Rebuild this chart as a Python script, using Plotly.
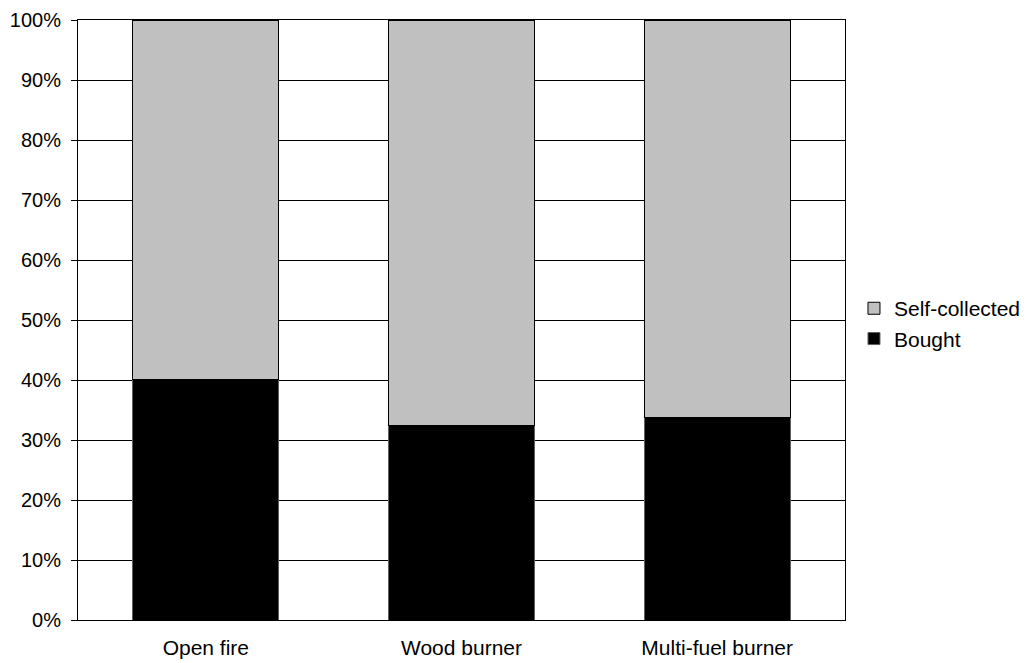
import plotly.graph_objects as go

categories = ["Open fire", "Wood burner", "Multi-fuel burner"]
bought = [40.1, 32.4, 33.8]
self_collected = [100 - b for b in bought]
y_ticks = list(range(0, 101, 10))
y_tick_labels = [f"{v}%" for v in y_ticks]

fig = go.Figure()
fig.add_trace(go.Bar(
    x=categories, y=bought, name="Bought",
    marker=dict(color="#000000", line=dict(color="#606060", width=1)),
))
fig.add_trace(go.Bar(
    x=categories, y=self_collected, name="Self-collected",
    marker=dict(color="#c0c0c0", line=dict(color="#000000", width=1)),
))

fig.update_layout(
    barmode="stack",
    bargap=0.43,
    width=1029, height=663,
    margin=dict(l=70, r=192, t=12, b=51, autoexpand=False),
    paper_bgcolor="white", plot_bgcolor="white",
    font=dict(family="Liberation Sans, Arial, sans-serif", size=21, color="black"),
    showlegend=True,
    legend=dict(
        traceorder="reversed",
        x=1.0117, xanchor="left", y=0.494, yanchor="middle",
        font=dict(size=21),
        itemwidth=30,
        tracegroupgap=0,
        bgcolor="rgba(0,0,0,0)",
    ),
    xaxis=dict(
        showline=True, linecolor="black", linewidth=1, mirror=True,
        showgrid=False, ticks="", tickfont=dict(size=21),
        ticklabelstandoff=9,
    ),
    yaxis=dict(
        range=[0, 100], tickvals=y_ticks, ticktext=y_tick_labels,
        showline=True, linecolor="black", linewidth=1, mirror=True,
        showgrid=True, gridcolor="black", gridwidth=1,
        ticks="outside", ticklen=6, tickcolor="black",
        tickfont=dict(size=20), zeroline=False,
        ticklabelstandoff=6, ticklabeloverflow="allow",
    ),
)

fig.write_html("out.html")
